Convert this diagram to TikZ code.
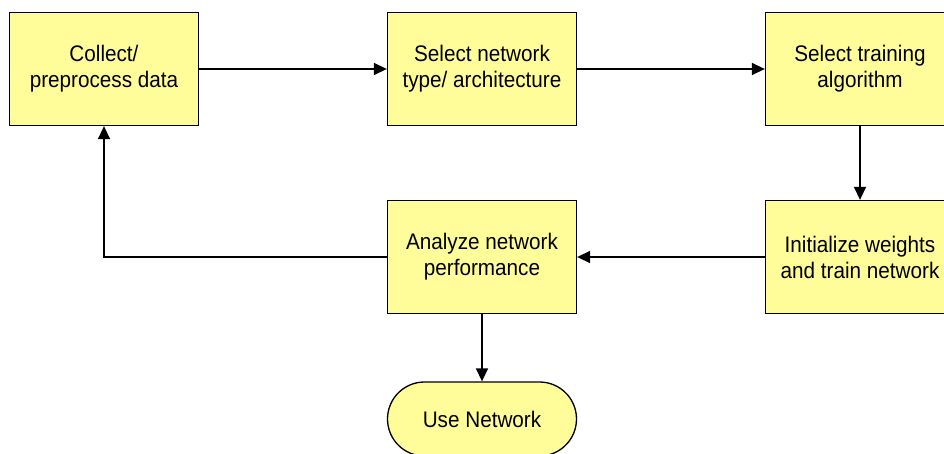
\documentclass[tikz,border=0pt]{standalone}
\usepackage{fontspec}
\setmainfont[FakeStretch=0.92]{Liberation Sans}
\usetikzlibrary{arrows.meta}
\definecolor{boxfill}{HTML}{FFFC9A}
\tikzset{
  procbox/.style={draw=black, line width=1.3pt, fill=boxfill, minimum width=189pt, minimum height=113pt, inner sep=0pt,
    align=center, font=\fontsize{22.5}{26}\selectfont},
  pill/.style={draw=black, line width=1.3pt, fill=boxfill, minimum width=189pt, minimum height=74pt, inner sep=0pt,
    rounded corners=37pt, align=center, font=\fontsize{22.5}{26}\selectfont},
  conn/.style={line width=1.5pt, -{Triangle[length=13pt,width=12pt]}}
}
\begin{document}
\begin{tikzpicture}[x=1pt,y=-1pt]
\clip (0,0) rectangle (944,454);
\fill[white] (0,0) rectangle (944,454);
\node[procbox] (collect) at (104,69) {Collect/\\preprocess data};
\node[procbox] (select) at (482,69) {Select network\\type/ architecture};
\node[procbox] (train) at (860,69) {Select training\\algorithm};
\node[procbox] (init) at (860,257) {Initialize weights\\and train network};
\node[procbox] (analyze) at (482,257) {Analyze network\\performance};
\node[pill] (use) at (482,419) {Use Network};
\coordinate (corner) at (104,257);
\draw[conn] (collect.east) -- (select.west);
\draw[conn] (select.east) -- (train.west);
\draw[conn] (train.south) -- (init.north);
\draw[conn] (init.west) -- (analyze.east);
\draw[conn] (analyze.west) -- (corner) -- (collect.south);
\draw[conn] (analyze.south) -- (use.north);
\end{tikzpicture}
\end{document}
